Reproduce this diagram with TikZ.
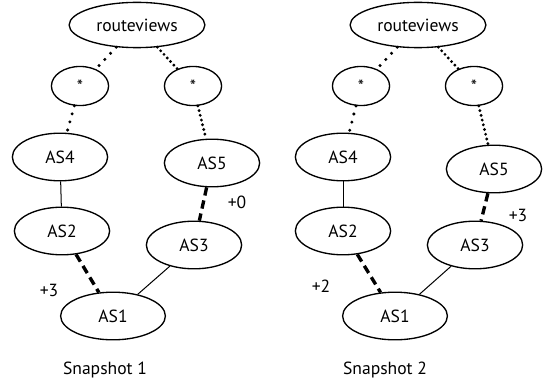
\documentclass[tikz,border=0pt]{standalone}
\usepackage{fontspec}
\setmainfont{PT Sans}
\usetikzlibrary{shapes.geometric}
\begin{document}
\begin{tikzpicture}[
    x=0.021cm, y=-0.021cm,
    every node/.style={font=\fontsize{10.5}{12}\selectfont},
    asnode/.style={ellipse, draw, thick, inner sep=0pt, minimum width=2.0cm, minimum height=1.0cm},
    starnode/.style={ellipse, draw, thick, inner sep=0pt, minimum width=1.2cm, minimum height=0.82cm},
    rootnode/.style={ellipse, draw, thick, inner sep=0pt, minimum width=2.85cm, minimum height=0.95cm},
    firstnode/.style={asnode, minimum width=2.2cm},
    loosedots/.style={line width=2pt, line cap=round, dash pattern=on 0pt off 5pt},
    densedots/.style={line width=1.9pt, line cap=round, dash pattern=on 0pt off 2.9pt},
    heavydash/.style={line width=2pt, dash pattern=on 5pt off 3pt},
    plain/.style={line width=0.6pt}
]
\useasboundingbox (0,0) rectangle (550,383);

\node[rootnode] (rvA) at (137,25) {routeviews};
\node[starnode] (saA) at (80,86) {*};
\node[starnode] (sbA) at (193,86) {*};
\node[asnode] (as4A) at (60,157) {AS4};
\node[asnode] (as5A) at (212,163) {AS5};
\node[asnode] (as2A) at (62,231) {AS2};
\node[asnode] (as3A) at (194,245) {AS3};
\node[firstnode] (as1A) at (113,316) {AS1};

\draw[loosedots] (rvA) -- (saA);
\draw[densedots] (rvA) -- (sbA);
\draw[loosedots] (saA) -- (as4A);
\draw[densedots] (sbA) -- (as5A);
\draw[plain] (as4A) -- (as2A);
\draw[heavydash] (as5A) -- (as3A);
\draw[heavydash] (as2A) -- (as1A);
\draw[plain] (as3A) -- (as1A);

\node (wA) at (49,290) {+3};
\node (wB) at (237,202) {+0};
\node (capA) at (105,370) {Snapshot 1};

\node[rootnode] (rvB) at (418,25) {routeviews};
\node[starnode] (saB) at (361,86) {*};
\node[starnode] (sbB) at (474,86) {*};
\node[asnode] (as4B) at (343,157) {AS4};
\node[asnode] (as5B) at (494,169) {AS5};
\node[asnode] (as2B) at (343,231) {AS2};
\node[asnode] (as3B) at (475,245) {AS3};
\node[firstnode] (as1B) at (395,316) {AS1};

\draw[loosedots] (rvB) -- (saB);
\draw[densedots] (rvB) -- (sbB);
\draw[loosedots] (saB) -- (as4B);
\draw[densedots] (sbB) -- (as5B);
\draw[plain] (as4B) -- (as2B);
\draw[heavydash] (as5B) -- (as3B);
\draw[heavydash] (as2B) -- (as1B);
\draw[plain] (as3B) -- (as1B);

\node (wC) at (321,286) {+2};
\node (wD) at (518,215) {+3};
\node (capB) at (385,370) {Snapshot 2};
\end{tikzpicture}
\end{document}
